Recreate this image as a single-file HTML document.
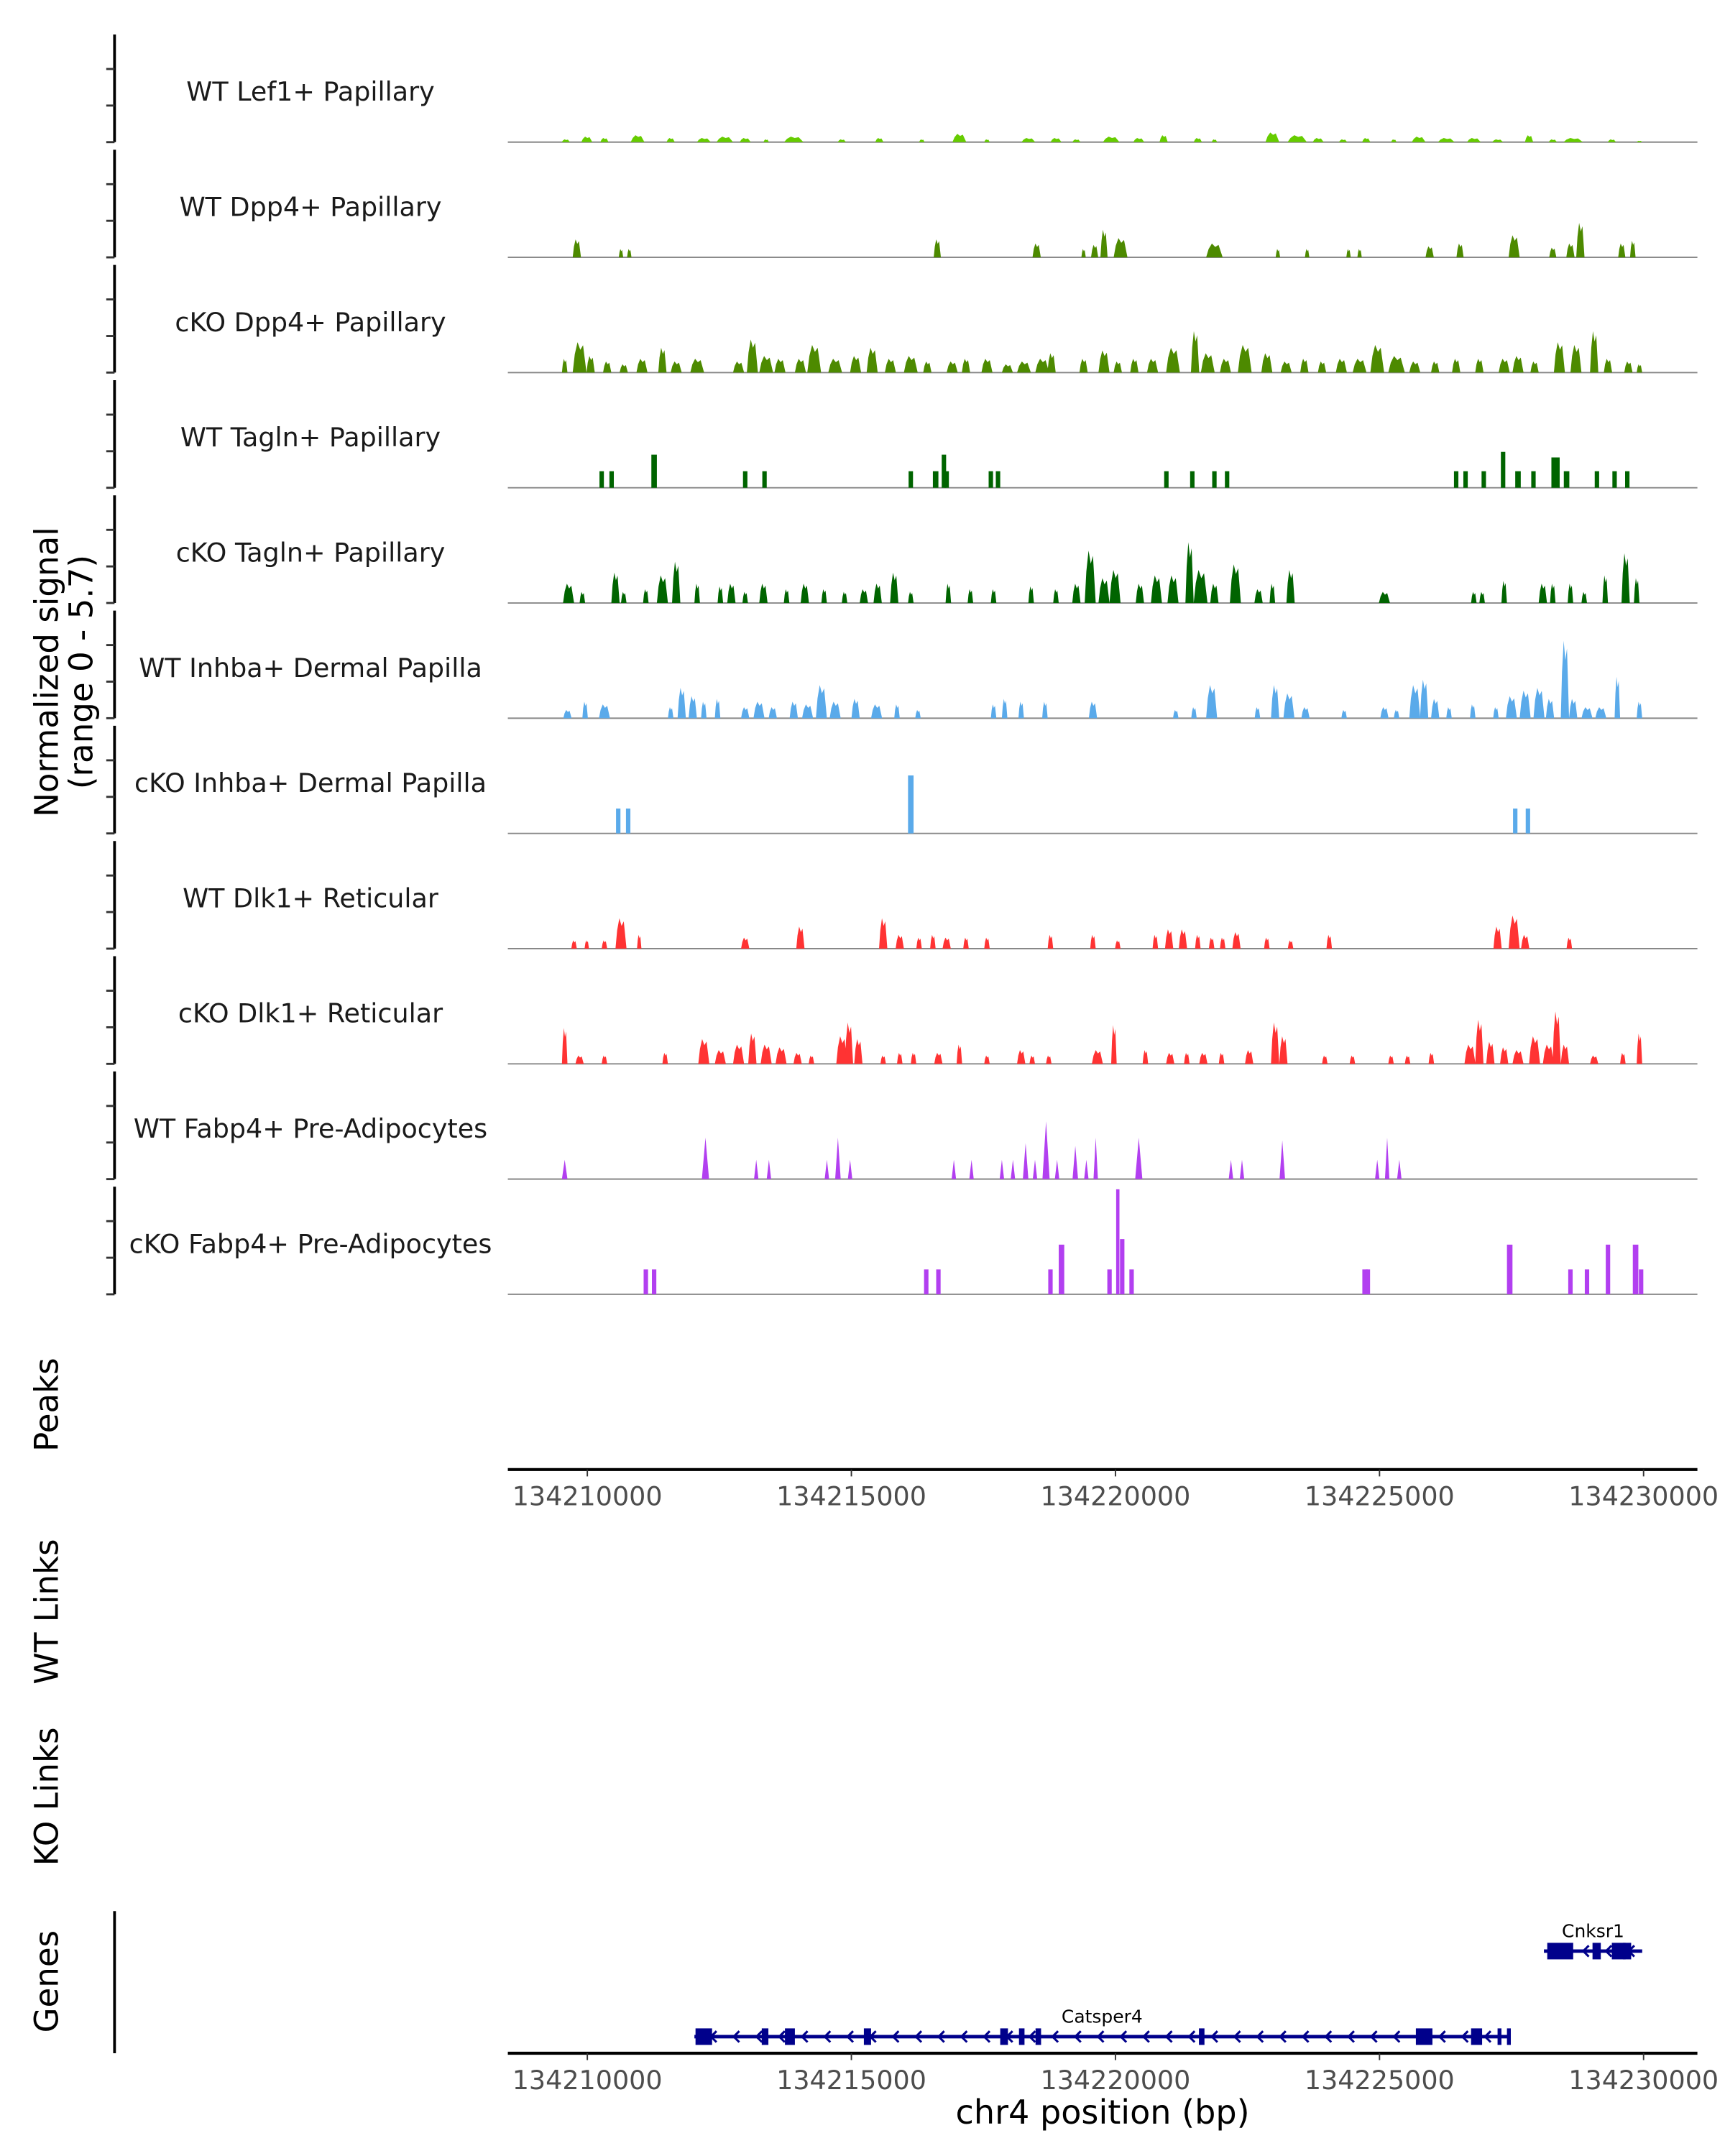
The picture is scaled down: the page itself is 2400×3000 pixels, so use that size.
<!DOCTYPE html>
<html><head><meta charset="utf-8"><style>
html,body{margin:0;padding:0;background:#fff;}
svg{display:block;font-family:"DejaVu Sans","Liberation Sans",sans-serif;}
</style></head><body>
<svg id="chart" width="2400" height="3000" viewBox="0 0 1250 1562.5" xmlns="http://www.w3.org/2000/svg">
<rect width="1250" height="1562.5" fill="#fff"/>
<text transform="translate(42,487) rotate(-90)" text-anchor="middle" font-size="23.5" fill="#000">Normalized signal</text>
<text transform="translate(67,487) rotate(-90)" text-anchor="middle" font-size="23.5" fill="#000">(range 0 - 5.7)</text>
<text transform="translate(42,1018) rotate(-90)" text-anchor="middle" font-size="23.5" fill="#000">Peaks</text>
<text transform="translate(42,1168) rotate(-90)" text-anchor="middle" font-size="23.5" fill="#000">WT Links</text>
<text transform="translate(42,1302) rotate(-90)" text-anchor="middle" font-size="23.5" fill="#000">KO Links</text>
<text transform="translate(42,1436) rotate(-90)" text-anchor="middle" font-size="23.5" fill="#000">Genes</text>
<line x1="83" y1="1385" x2="83" y2="1488" stroke="#000" stroke-width="2"/>
<text x="799" y="1539" text-anchor="middle" font-size="24" fill="#000">chr4 position (bp)</text>
<g id="tracks"></g>
<g id="axes"></g>
<g id="genes"></g>
</svg>
<script>
// data: [center (raw reading units, converted by toKb), value (0-5.7), width]
const trackLabels = ["WT Lef1+ Papillary","WT Dpp4+ Papillary","cKO Dpp4+ Papillary","WT Tagln+ Papillary","cKO Tagln+ Papillary","WT Inhba+ Dermal Papilla","cKO Inhba+ Dermal Papilla","WT Dlk1+ Reticular","cKO Dlk1+ Reticular","WT Fabp4+ Pre-Adipocytes","cKO Fabp4+ Pre-Adipocytes"];
const trackColors = ["#66cc00","#4d8a00","#4d8a00","#006400","#006400","#5aaaea","#5aaaea","#ff3333","#ff3333","#b23ff0","#b23ff0"];
const trackShapes = ["area","area","area","bar","area","area","bar","area","area","tri","bar"];
const lef1WT = [[0.55,0.14,0.15],[0.93,0.28,0.2],[1.25,0.21,0.15],[1.85,0.35,0.25],[2.45,0.21,0.15],[3.05,0.21,0.25],[3.43,0.28,0.3],[3.8,0.21,0.2],[4.18,0.14,0.1],[4.68,0.28,0.35],[5.55,0.14,0.15],[6.23,0.21,0.15],[7.0,0.14,0.1],[7.68,0.42,0.25],[8.18,0.14,0.1],[8.93,0.21,0.25],[9.43,0.21,0.2],[9.8,0.14,0.15],[10.43,0.28,0.3],[10.93,0.21,0.2],[11.38,0.35,0.15],[12.0,0.21,0.15],[12.3,0.14,0.1],[13.35,0.49,0.25],[13.8,0.35,0.35],[14.18,0.21,0.2],[14.63,0.14,0.15],[15.05,0.21,0.15],[15.55,0.14,0.1],[16.0,0.28,0.25],[16.5,0.21,0.3],[17.0,0.21,0.25],[17.43,0.14,0.2],[18.0,0.35,0.15],[18.43,0.14,0.15],[18.8,0.21,0.35],[19.5,0.14,0.15],[20.0,0.07,0.1]];
const dpp4WT = [[0.75,0.91,0.15],[1.55,0.42,0.08],[1.7,0.42,0.08],[7.28,0.91,0.13],[9.08,0.7,0.15],[9.93,0.42,0.08],[10.13,0.63,0.13],[10.3,1.4,0.13],[10.6,0.98,0.25],[12.3,0.7,0.3],[13.45,0.42,0.08],[13.98,0.42,0.08],[14.73,0.42,0.08],[14.93,0.42,0.08],[16.2,0.56,0.15],[16.75,0.7,0.13],[17.73,1.12,0.2],[18.43,0.49,0.13],[18.75,0.7,0.15],[18.93,1.75,0.15],[19.68,0.7,0.13],[19.88,0.84,0.1]];
const dpp4KO = [[0.53,0.7,0.1],[0.8,1.54,0.25],[1.0,0.84,0.15],[1.3,0.56,0.15],[1.6,0.42,0.15],[1.93,0.7,0.2],[2.3,1.26,0.15],[2.55,0.56,0.2],[2.93,0.7,0.25],[3.68,0.56,0.2],[3.93,1.68,0.2],[4.18,0.84,0.25],[4.43,0.7,0.2],[4.8,0.7,0.2],[5.05,1.4,0.25],[5.43,0.7,0.25],[5.8,0.84,0.2],[6.1,1.26,0.2],[6.43,0.7,0.2],[6.8,0.84,0.25],[7.1,0.56,0.15],[7.55,0.56,0.2],[7.8,0.7,0.15],[8.18,0.7,0.2],[8.55,0.42,0.2],[8.85,0.56,0.25],[9.18,0.7,0.25],[9.35,0.98,0.15],[9.93,0.7,0.15],[10.3,1.12,0.2],[10.55,0.56,0.15],[10.85,0.7,0.15],[11.18,0.7,0.2],[11.55,1.26,0.25],[11.95,2.1,0.15],[12.18,0.98,0.25],[12.5,0.7,0.2],[12.85,1.4,0.25],[13.25,0.98,0.2],[13.6,0.56,0.2],[13.93,0.7,0.15],[14.25,0.56,0.15],[14.6,0.7,0.2],[14.93,0.7,0.25],[15.25,1.4,0.25],[15.6,0.84,0.3],[15.93,0.56,0.2],[16.3,0.56,0.15],[16.68,0.7,0.15],[17.1,0.7,0.15],[17.55,0.7,0.2],[17.8,0.84,0.2],[18.1,0.56,0.15],[18.55,1.54,0.2],[18.85,1.4,0.2],[19.18,2.1,0.15],[19.43,0.7,0.15],[19.8,0.56,0.15],[20.0,0.42,0.1]];
const taglnWT = [[1.2,0.84,0.08],[1.38,0.84,0.08],[2.15,1.68,0.1],[3.8,0.84,0.08],[4.15,0.84,0.08],[6.8,0.84,0.08],[7.25,0.84,0.1],[7.4,1.68,0.08],[7.45,0.84,0.08],[8.25,0.84,0.08],[8.38,0.84,0.08],[11.43,0.84,0.08],[11.9,0.84,0.08],[12.3,0.84,0.08],[12.53,0.84,0.08],[16.68,0.84,0.08],[16.85,0.84,0.08],[17.18,0.84,0.08],[17.53,1.82,0.08],[17.8,0.84,0.1],[18.08,0.84,0.08],[18.48,1.54,0.15],[18.68,0.84,0.1],[19.23,0.84,0.08],[19.55,0.84,0.08],[19.78,0.84,0.08]];
const taglnKO = [[0.6,0.98,0.2],[0.85,0.56,0.1],[1.45,1.54,0.15],[1.6,0.56,0.1],[2.0,0.7,0.1],[2.3,1.4,0.2],[2.55,2.1,0.15],[2.93,0.98,0.1],[3.35,0.84,0.1],[3.55,0.98,0.15],[3.8,0.56,0.1],[4.13,0.98,0.15],[4.55,0.7,0.1],[4.88,0.98,0.15],[5.23,0.7,0.1],[5.6,0.56,0.1],[5.95,0.7,0.15],[6.2,0.98,0.15],[6.5,1.54,0.15],[6.8,0.56,0.1],[7.48,0.98,0.1],[7.88,0.7,0.1],[8.3,0.7,0.1],[8.98,0.84,0.1],[9.43,0.7,0.1],[9.8,0.98,0.15],[10.05,2.66,0.2],[10.3,1.26,0.2],[10.5,1.68,0.2],[10.95,0.98,0.15],[11.25,1.4,0.2],[11.55,1.4,0.2],[11.85,3.08,0.15],[12.05,1.68,0.25],[12.3,0.98,0.15],[12.68,1.96,0.2],[13.1,0.7,0.15],[13.35,0.98,0.1],[13.68,1.68,0.15],[15.38,0.56,0.2],[17.0,0.56,0.1],[17.15,0.56,0.1],[17.55,1.12,0.1],[18.25,0.98,0.15],[18.43,0.98,0.1],[18.75,0.98,0.1],[19.0,0.56,0.1],[19.38,1.4,0.1],[19.75,2.52,0.15],[19.95,1.26,0.1]];
const inhbaWT = [[0.58,0.42,0.15],[0.9,0.84,0.1],[1.25,0.7,0.2],[2.45,0.56,0.1],[2.65,1.54,0.15],[2.85,1.12,0.15],[3.05,0.84,0.1],[3.3,0.98,0.1],[3.8,0.56,0.15],[4.05,0.84,0.2],[4.3,0.56,0.15],[4.68,0.84,0.15],[4.93,0.7,0.2],[5.18,1.68,0.2],[5.43,0.84,0.2],[5.8,0.98,0.15],[6.18,0.7,0.2],[6.55,0.7,0.1],[6.93,0.42,0.1],[8.3,0.7,0.1],[8.5,0.98,0.1],[8.8,0.84,0.1],[9.23,0.84,0.1],[10.1,0.84,0.15],[11.6,0.42,0.1],[11.93,0.56,0.1],[12.25,1.68,0.2],[13.08,0.56,0.1],[13.4,1.68,0.15],[13.65,1.26,0.2],[13.95,0.56,0.15],[14.65,0.42,0.1],[15.38,0.56,0.15],[15.6,0.42,0.1],[15.93,1.68,0.2],[16.1,1.96,0.15],[16.3,0.98,0.15],[16.55,0.56,0.1],[16.98,0.7,0.1],[17.4,0.56,0.1],[17.68,1.12,0.2],[17.93,1.4,0.2],[18.18,1.54,0.2],[18.38,0.98,0.15],[18.65,3.92,0.15],[18.8,0.98,0.15],[19.05,0.56,0.2],[19.3,0.56,0.2],[19.6,2.1,0.1],[20.0,0.84,0.1]];
const inhbaKO = [[1.5,1.26,0.08],[1.68,1.26,0.08],[6.8,2.94,0.1],[17.75,1.26,0.08],[17.98,1.26,0.08]];
const dlk1WT = [[0.7,0.42,0.1],[0.93,0.42,0.08],[1.25,0.42,0.1],[1.55,1.54,0.2],[1.88,0.7,0.08],[3.8,0.56,0.15],[4.8,1.12,0.15],[6.3,1.54,0.15],[6.6,0.7,0.15],[6.95,0.56,0.1],[7.2,0.7,0.1],[7.45,0.56,0.15],[7.8,0.56,0.1],[8.18,0.56,0.1],[9.33,0.7,0.1],[10.1,0.7,0.1],[10.55,0.42,0.1],[11.23,0.7,0.1],[11.48,0.98,0.15],[11.73,0.98,0.15],[12.0,0.7,0.1],[12.25,0.56,0.1],[12.45,0.56,0.1],[12.7,0.84,0.15],[13.25,0.56,0.1],[13.68,0.42,0.1],[14.38,0.7,0.1],[17.43,1.12,0.15],[17.73,1.68,0.2],[17.93,0.7,0.15],[18.73,0.56,0.1]];
const dlk1KO = [[0.53,1.82,0.1],[0.8,0.42,0.15],[1.25,0.42,0.1],[2.35,0.56,0.1],[3.05,1.26,0.2],[3.35,0.7,0.2],[3.68,0.98,0.2],[3.93,1.54,0.15],[4.18,0.98,0.2],[4.45,0.84,0.2],[4.75,0.56,0.15],[5.0,0.42,0.1],[5.55,1.4,0.2],[5.68,2.1,0.15],[5.85,1.26,0.15],[6.3,0.42,0.1],[6.6,0.56,0.1],[6.85,0.56,0.1],[7.3,0.56,0.15],[7.68,0.98,0.1],[8.18,0.42,0.1],[8.8,0.7,0.15],[9.0,0.42,0.1],[9.3,0.42,0.1],[10.18,0.7,0.2],[10.48,1.96,0.1],[11.05,0.7,0.1],[11.5,0.56,0.15],[11.8,0.56,0.1],[12.1,0.56,0.15],[12.43,0.56,0.1],[12.93,0.7,0.15],[13.4,2.1,0.15],[13.55,1.4,0.15],[14.3,0.42,0.1],[14.8,0.42,0.1],[15.5,0.42,0.1],[15.8,0.42,0.1],[16.23,0.56,0.1],[16.93,0.98,0.2],[17.1,2.24,0.15],[17.3,1.12,0.15],[17.55,0.84,0.15],[17.8,0.7,0.2],[18.1,1.4,0.2],[18.35,0.98,0.2],[18.5,2.66,0.15],[18.65,0.98,0.15],[19.18,0.42,0.15],[19.7,0.56,0.1],[20.0,1.54,0.1]];
const fabp4WT = [[0.53,0.98,0.1],[3.08,2.1,0.13],[4.0,0.98,0.08],[4.23,0.98,0.08],[5.28,0.98,0.08],[5.48,2.1,0.1],[5.7,0.98,0.08],[7.58,0.98,0.08],[7.9,0.98,0.08],[8.45,0.98,0.08],[8.65,0.98,0.08],[8.88,1.82,0.1],[9.05,0.98,0.08],[9.25,2.94,0.13],[9.45,0.98,0.08],[9.78,1.68,0.1],[9.98,0.98,0.08],[10.15,2.1,0.08],[10.93,2.1,0.13],[12.6,0.98,0.08],[12.8,0.98,0.08],[13.53,1.96,0.1],[15.25,0.98,0.08],[15.43,2.1,0.08],[15.65,0.98,0.08]];
const fabp4KO = [[2.0,1.26,0.08],[2.15,1.26,0.08],[7.08,1.26,0.08],[7.3,1.26,0.08],[9.33,1.26,0.08],[9.53,2.52,0.1],[10.4,1.26,0.08],[10.55,5.32,0.06],[10.63,2.8,0.08],[10.8,1.26,0.08],[15.03,1.26,0.1],[15.08,1.26,0.08],[17.65,2.52,0.1],[18.75,1.26,0.08],[19.05,1.26,0.08],[19.43,2.52,0.08],[19.93,2.52,0.1],[20.03,1.26,0.08]];
const trackData = [lef1WT,dpp4WT,dpp4KO,taglnWT,taglnKO,inhbaWT,inhbaKO,dlk1WT,dlk1KO,fabp4WT,fabp4KO];
const xTicks = [0,5,10,15,20];
const xTickLabels = ["134210000","134215000","134220000","134225000","134230000"];
const catsper4Span = [2.88,17.65];
const catsper4Exons = [[2.9,3.2],[4.1,4.22],[4.52,4.7],[5.95,6.08],[8.42,8.56],[8.76,8.86],[9.06,9.16],[12.02,12.12],[15.95,16.25],[16.95,17.15],[17.43,17.5],[17.6,17.67]];
const cnksr1Span = [18.27,20.05];
const cnksr1Exons = [[18.33,18.8],[19.15,19.3],[19.5,19.75],[19.7,19.85]];

const NS="http://www.w3.org/2000/svg";
// axis: kb offset from 134210000 -> px
const X = kb => 425.6 + kb*38.27;
// positions above were read on a slightly different scale; convert reading units to kb
const toKb = r => r*1.0452 - 0.9825;
const wKb = r => r*1.0452;
const YS = v => v*14.3;
const base0 = 103, step = 83.5;
function mk(tag, attrs, parent){const e=document.createElementNS(NS,tag);for(const k in attrs)e.setAttribute(k,attrs[k]);parent.appendChild(e);return e;}
const tracks=document.getElementById('tracks');
trackData.forEach((data,i)=>{
  const b = base0 + i*step;
  const g = mk('g',{},tracks);
  
  
  const ax = mk('line',{x1:83,y1:b-78,x2:83,y2:b,stroke:'#000','stroke-width':2},g);
  
  
  [0,26.5,53].forEach(o=>{
    const t=mk('line',{x1:77,y1:b-o,x2:83,y2:b-o,stroke:'#333','stroke-width':1.5},g);
    
    
  });
  const lab = mk('text',{x:225,y:b-30,'text-anchor':'middle','font-size':19,fill:'#1a1a1a'},g);
  lab.textContent = trackLabels[i];
  
  
  const bl = mk('line',{x1:368,y1:b,x2:1230,y2:b,stroke:'#888','stroke-width':1},g);
  
  
  data.forEach(d=>{
    const c=X(toKb(d[0])), h=YS(d[1]), w=Math.max(wKb(d[2])*38.27,2);
    const s=c-w/2, e=c+w/2;
    let pts;
    if(trackShapes[i]==='tri') pts=[[s,b],[c,b-h],[e,b]];
    else if(trackShapes[i]==='bar') pts=[[s,b],[s,b-h],[e,b-h],[e,b]];
    else pts=[[s,b],[s+w*0.15,b-h*0.6],[s+w*0.35,b-h],[s+w*0.55,b-h*0.75],[s+w*0.75,b-h*0.9],[e,b]];
    const p=mk('polygon',{points:pts.map(q=>q[0].toFixed(1)+','+q[1].toFixed(1)).join(' '),fill:trackColors[i]},g);
    
    
  });
});
const axes=document.getElementById('axes');
[1065,1488].forEach((y,j)=>{
  const l=mk('line',{x1:368,y1:y,x2:1230,y2:y,stroke:'#000','stroke-width':2.2},axes);
  
  
  xTicks.forEach((t,k)=>{
    const tk=mk('line',{x1:X(t),y1:y,x2:X(t),y2:y+5,stroke:'#333','stroke-width':1},axes);
    
    
    const tl=mk('text',{x:X(t),y:y+26,'text-anchor':'middle','font-size':19,fill:'#4d4d4d'},axes);
    tl.textContent=xTickLabels[k];
    
    
  });
});
const genes=document.getElementById('genes');
function drawGene(name,span,exons,y){
  const g=mk('g',{},genes);
  
  
  const x0=X(toKb(span[0])), x1=X(toKb(span[1]));
  mk('line',{x1:x0,y1:y,x2:x1,y2:y,stroke:'#00008b','stroke-width':2.5},g);
  for(let x=x0+12;x<x1-4;x+=16.5){
    mk('polyline',{points:`${x+4},${y-4} ${x},${y} ${x+4},${y+4}`,fill:'none',stroke:'#00008b','stroke-width':1.6},g);
  }
  exons.forEach(ex=>{
    const a=X(toKb(ex[0])), bb=X(toKb(ex[1]));
    const r=mk('rect',{x:a,y:y-6,width:Math.max(bb-a,2),height:12,fill:'#00008b'},g);
    
    
  });
  const t=mk('text',{x:(x0+x1)/2,y:y-10,'text-anchor':'middle','font-size':13,fill:'#000'},g);
  t.textContent=name;
  
  
}
drawGene('Catsper4',catsper4Span,catsper4Exons,1476);
drawGene('Cnksr1',cnksr1Span,cnksr1Exons,1414);
</script>
</body></html>
